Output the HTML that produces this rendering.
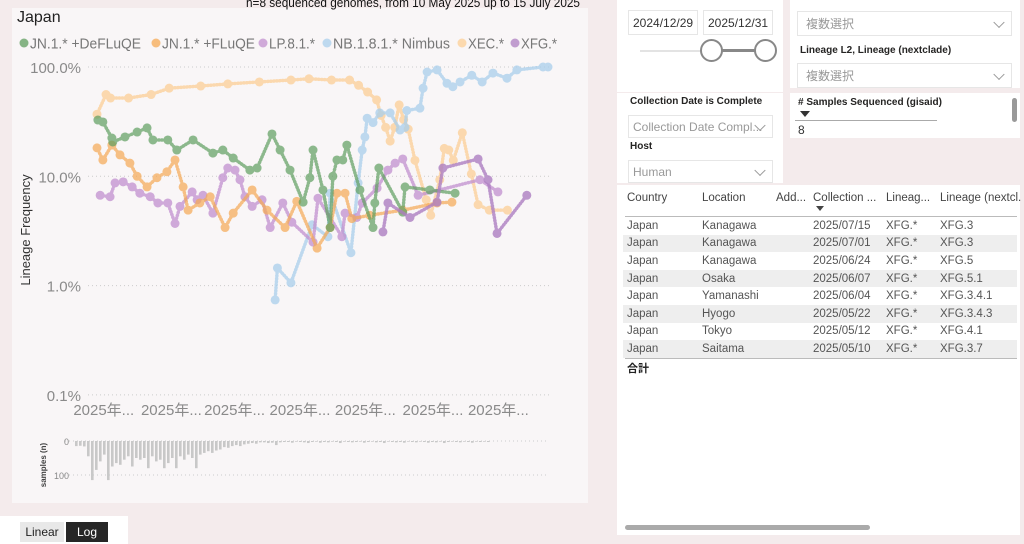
<!DOCTYPE html>
<html><head><meta charset="utf-8">
<style>
body{margin:0;width:1024px;height:544px;overflow:hidden;background:#f4ebec;font-family:"Liberation Sans","Noto Sans CJK JP",sans-serif;position:relative}
.abs{position:absolute}
.panel{position:absolute;background:#fff}
.lbl{position:absolute;font-size:10px;color:#252423;font-weight:bold;white-space:nowrap}
.dd{position:absolute;border:1px solid #e6e6e6;background:#fff;font-size:12px;color:#999;box-sizing:border-box;padding:0 8px;display:flex;align-items:center;white-space:nowrap;overflow:hidden}
.chev{position:absolute;right:8px;top:50%;width:7px;height:7px;border-right:1px solid #999;border-bottom:1px solid #999;transform:translateY(-70%) rotate(45deg)}
table{border-collapse:collapse;font-size:11.5px;color:#555}
td{height:17.6px;padding:0 0 0 4px;white-space:nowrap}
</style></head><body>
<div class="abs" style="left:12px;top:8px;width:576px;height:495px;background:#f9f6f7"></div>
<div class="abs" style="left:17px;top:9px;font-size:16px;color:#222">Japan</div>
<svg class="abs" style="left:0;top:0" width="600" height="510" id="chart"></svg>
<div class="panel" style="left:0;top:516px;width:128px;height:28px"></div>
<div class="abs" style="left:20px;top:522px;width:44px;height:20px;background:#e8e8e8;font-size:12px;color:#222;text-align:center;line-height:21px">Linear</div>
<div class="abs" style="left:66px;top:522px;width:42px;height:20px;background:#262626;font-size:12px;color:#fff;text-align:center;line-height:21px">Log</div>

<div class="panel" style="left:617px;top:0;width:166px;height:92px"></div>
<div class="dd" style="left:628px;top:10px;width:70px;height:25px;color:#333;padding:0 4px">2024/12/29</div>
<div class="dd" style="left:703px;top:10px;width:70px;height:25px;color:#333;padding:0 4px">2025/12/31</div>
<div class="abs" style="left:640px;top:50px;width:125px;height:2px;background:#e3e3e3"></div>
<div class="abs" style="left:711px;top:49px;width:54px;height:3px;background:#888"></div>
<div class="abs" style="left:700px;top:39px;width:19px;height:19px;border:2px solid #888;border-radius:50%;background:#fff"></div>
<div class="abs" style="left:754px;top:39px;width:19px;height:19px;border:2px solid #888;border-radius:50%;background:#fff"></div>

<div class="panel" style="left:790px;top:0;width:230px;height:88px"></div>
<div class="dd" style="left:797px;top:11px;width:215px;height:25px">複数選択<span class="chev"></span></div>
<div class="lbl" style="left:800px;top:45px">Lineage L2, Lineage (nextclade)</div>
<div class="dd" style="left:797px;top:63px;width:215px;height:25px">複数選択<span class="chev"></span></div>

<div class="panel" style="left:790px;top:93px;width:230px;height:45px;overflow:hidden">
<div class="lbl" style="left:8px;top:4px;font-size:10px">&#35; Samples Sequenced (gisaid)</div>
<div class="abs" style="left:10px;top:18px;width:0;height:0;border-left:5px solid transparent;border-right:5px solid transparent;border-top:6px solid #333"></div>
<div class="abs" style="left:5px;top:27px;width:142px;height:1px;background:#aaa"></div>
<div class="abs" style="left:8px;top:30px;font-size:12px;color:#333">8</div>
<div class="abs" style="left:222px;top:5px;width:5px;height:24px;border-radius:3px;background:#999"></div>
</div>

<div class="panel" style="left:617px;top:93px;width:166px;height:90px"></div>
<div class="lbl" style="left:630px;top:96px">Collection Date is Complete</div>
<div class="dd" style="left:628px;top:115px;width:145px;height:23px;padding:0 4px">Collection Date Compl...<span class="chev"></span></div>
<div class="lbl" style="left:630px;top:141px">Host</div>
<div class="dd" style="left:628px;top:160px;width:145px;height:23px;padding:0 4px">Human<span class="chev"></span></div>

<div class="panel" style="left:617px;top:185px;width:403px;height:350px">
<div class="abs" style="left:10px;top:7px;font-size:11.5px;color:#444;white-space:nowrap">Country</div>
<div class="abs" style="left:85px;top:7px;font-size:11.5px;color:#444">Location</div>
<div class="abs" style="left:159px;top:7px;font-size:11.5px;color:#444">Add...</div>
<div class="abs" style="left:196px;top:7px;font-size:11.5px;color:#444">Collection ...</div>
<div class="abs" style="left:199px;top:21px;width:0;height:0;border-left:4px solid transparent;border-right:4px solid transparent;border-top:5px solid #444"></div>
<div class="abs" style="left:269px;top:7px;font-size:11.5px;color:#444">Lineag...</div>
<div class="abs" style="left:323px;top:7px;font-size:11.5px;color:#444;white-space:nowrap">Lineage (nextcl.</div>
<div class="abs" style="left:8px;top:31px;width:392px;height:1px;background:#bbb"></div>
<table class="abs" style="left:6px;top:32px;width:394px">
<tr><td style="width:71px">Japan</td><td style="width:70px">Kanagawa</td><td style="width:33px"></td><td style="width:69px">2025/07/15</td><td style="width:50px">XFG.*</td><td>XFG.3</td></tr>
<tr style="background:#eee"><td>Japan</td><td>Kanagawa</td><td></td><td>2025/07/01</td><td>XFG.*</td><td>XFG.3</td></tr>
<tr><td>Japan</td><td>Kanagawa</td><td></td><td>2025/06/24</td><td>XFG.*</td><td>XFG.5</td></tr>
<tr style="background:#eee"><td>Japan</td><td>Osaka</td><td></td><td>2025/06/07</td><td>XFG.*</td><td>XFG.5.1</td></tr>
<tr><td>Japan</td><td>Yamanashi</td><td></td><td>2025/06/04</td><td>XFG.*</td><td>XFG.3.4.1</td></tr>
<tr style="background:#eee"><td>Japan</td><td>Hyogo</td><td></td><td>2025/05/22</td><td>XFG.*</td><td>XFG.3.4.3</td></tr>
<tr><td>Japan</td><td>Tokyo</td><td></td><td>2025/05/12</td><td>XFG.*</td><td>XFG.4.1</td></tr>
<tr style="background:#eee"><td>Japan</td><td>Saitama</td><td></td><td>2025/05/10</td><td>XFG.*</td><td>XFG.3.7</td></tr>
</table>
<div class="abs" style="left:8px;top:173px;width:392px;height:1px;background:#bbb"></div>
<div class="abs" style="left:10px;top:175px;font-size:11px;font-weight:bold;color:#222">合計</div>
<div class="abs" style="left:8px;top:340px;width:245px;height:5px;border-radius:3px;background:#aaa"></div>
</div>

<script>
const legendNames=["JN.1.* +DeFLuQE","JN.1.* +FLuQE","LP.8.1.*","NB.1.8.1.* Nimbus","XEC.*","XFG.*"];
const yTicks=[100,10,1,0.1];
const yTickLabels=["100.0%","10.0%","1.0%","0.1%"];
const xTickLabels=["2025年...","2025年...","2025年...","2025年...","2025年...","2025年...","2025年..."];
const xTickDays=[1.5,16.5,30.5,45,59.5,74.5,89];
const xecT=[0,2,3,7,12,16,23,29,36,43,47,52,56,58,60,62,63,64,65,66,67,68,69,70.5,73,74,76,77,78,79,81,83,84.5,87,91];
const xecV=[37,56,52,52,56,64,67,70,73,76,78,76,76,68,59,50,36,28,21,28,45,33,27,14,6.1,4.4,9.3,18,17.4,14,25,10.5,5.5,4.9,4.9];
const nbT=[39.5,40,43,47.7,51.2,51.7,56.3,57.9,58.8,59.4,59.9,61.2,62.7,65,67.2,68.3,68.7,71.6,72.3,73.2,75.4,77.6,78.9,80.5,83.1,85.4,87.8,90.9,93.1,98.9,100];
const nbV=[0.74,1.45,1.06,3.6,2.8,7.0,2.0,8.7,17.4,22.9,34,31,38,38,26.5,28,40,42,64,90,94,71,66,73,84,73,88,79,94,100,100];
const defT=[0.2,1.3,3.3,3.5,6.2,8.9,11.1,12.4,15.7,17.7,21.3,25.7,27.9,30.2,33.9,35.5,38.8,40.6,42.8,45.7,47.2,47.9,50.1,51.7,52.3,53.2,54.5,55.4,58.3,61.2,61.6,62.5,67.8,68.3,73.8,79.4];
const defV=[32.7,31.4,22.4,20.6,22.9,25.4,27.7,21.5,21.5,17.4,21.5,16.3,17.4,14.7,11.4,11.9,24.4,17.4,11.4,5.8,9.7,17.4,7.5,3.4,10,14.1,14.1,19.3,7.5,3.4,5.7,11.9,4.7,8.0,7.5,7.0];
const fluT=[0,1.3,3.3,5.1,7.3,8.9,11.1,13.3,15.5,17.3,19.1,20.2,22.8,25.1,28.4,30.2,34.4,37.7,41.7,44.3,48.8,51.7,53.2,55,56.5,60.5,67.8,75.4,78.7];
const fluV=[18.2,14.1,19.3,15.7,13.2,10,8.0,9.7,11.0,14.1,8.0,4.9,5.7,6.5,3.4,4.6,7.5,4.9,3.4,5.9,2.2,3.4,7.0,7.0,4.1,4.4,4.9,5.7,5.8];
const lpT=[0.7,2.9,4,5.8,7.8,9.5,11.8,13.5,15.7,17.3,18.4,21.1,22.2,23.5,25.7,27.9,29,30.6,31.7,32.8,34.4,36.6,38.4,41.2,43.2,47.9,49,54.3,55,57.6,58.8,62.1,64.5,66.1,67.8,71.2,84.9,88.9];
const lpV=[6.7,6.5,8.7,8.9,8.0,7.0,6.5,5.7,5.7,3.7,5.3,7.2,6.1,6.7,4.6,9.7,11.9,11.4,9.3,6.5,5.3,6.1,3.4,5.7,3.8,2.5,6.3,2.8,4.6,4.2,5.7,7.8,11.4,13.2,14.4,6.7,9.3,7.2];
const xfgT=[63.4,64.5,69.4,75.4,76.7,84.5,86.7,88.7,95.3];
const xfgV=[3.1,5.7,4.2,5.8,11.9,14.4,9.3,3.0,6.7];
const barCounts=[15,14,16,45,115,85,60,40,115,75,65,70,55,45,75,50,55,50,80,45,60,55,80,65,50,80,45,55,40,50,80,40,35,30,35,28,25,18,20,15,12,15,10,8,6,8,4,4,6,5,12,4,3,3,5,2,3,4,6,3,2,5,3,4,2,3,6,2,3,4,3,2,5,3,2,4,3,6,2,3,4,3,5,2,3,4,2,3,5,3,4,2,6,3,2,3,4,2,3,5,2,3,2,3];
const barTicks=[0,100];

const NS="http://www.w3.org/2000/svg";
const svg=document.getElementById('chart');
function mk(tag,attrs,parent){const e=document.createElementNS(NS,tag);for(const k in attrs)e.setAttribute(k,attrs[k]);(parent||svg).appendChild(e);return e;}
const xS=t=>97+t*4.51;
const yS=v=>67+(2-Math.log10(v))*109.3;
const barX=i=>67+i*4;
const barY=n=>441+n*0.34;

const sub=mk('text',{x:246,y:7,'font-size':13,fill:'#111',textLength:334,lengthAdjust:'spacingAndGlyphs'});
sub.textContent='n=8 sequenced genomes, from 10 May 2025 up to 15 July 2025';



yTicks.forEach((v,i)=>{
  const g=mk('line',{x1:88,x2:550,y1:yS(v),y2:yS(v),stroke:'#ccc','stroke-dasharray':'1 3'});
  
  
  const t=mk('text',{x:81,y:yS(v)+6,'text-anchor':'end','font-size':15,fill:'#8a8a8a'});
  t.textContent=yTickLabels[i];
  
  
});
xTickLabels.forEach((s,i)=>{
  const t=mk('text',{x:xS(xTickDays[i]),y:415,'text-anchor':'middle','font-size':15,fill:'#8a8a8a'});
  t.textContent=s;
  
  
});
const yt=mk('text',{x:0,y:0,transform:'translate(30,230) rotate(-90)','text-anchor':'middle','font-size':13,fill:'#333'});
yt.textContent='Lineage Frequency';



const colors=['#5f9e5f','#f5a954','#c190cf','#a9cfec','#fccf96','#ad7fc2'];
const legX=[20,152,259,323,458,511];
const legW=[111,93,46,117,36,36];
legendNames.forEach((n,i)=>{
  const g=mk('g',{});
  
  
  mk('circle',{cx:legX[i]+4,cy:43,r:4.5,fill:colors[i],opacity:0.75},g);
  const t=mk('text',{x:legX[i]+10,y:48.5,'font-size':15,fill:'#777',textLength:legW[i],lengthAdjust:'spacingAndGlyphs'},g);
  t.textContent=n;
});
function series(T,V,c,name,op){
  const g=mk('g',{opacity:op});
  
  
  mk('polyline',{points:T.map((t,i)=>xS(t)+','+yS(V[i])).join(' '),fill:'none',stroke:c,'stroke-width':3.5,'stroke-dasharray':'0.5 2.5','stroke-linecap':'round','stroke-linejoin':'round'},g);
  T.forEach((t,i)=>{const p=mk('circle',{cx:xS(t),cy:yS(V[i]),r:4.5,fill:c},g);
    
    });
}
series(xecT,xecV,colors[4],'series-xec',0.75);
series(nbT,nbV,colors[3],'series-nb181',0.75);
series(lpT,lpV,colors[2],'series-lp81',0.75);
series(fluT,fluV,colors[1],'series-jn1-fluqe',0.7);
series(defT,defV,colors[0],'series-jn1-defluqe',0.7);
series(xfgT,xfgV,colors[5],'series-xfg',0.8);

barTicks.forEach(v=>{
  const l=mk('line',{x1:65,x2:548,y1:barY(v),y2:barY(v),stroke:'#ccc','stroke-dasharray':'1 3'});
  
  
  const t=mk('text',{x:69,y:barY(v)+4,'text-anchor':'end','font-size':9,fill:'#888'});
  t.textContent=String(v);
  
  
});
barCounts.forEach((n,i)=>{
  const r=mk('rect',{x:barX(i)+8,y:barY(0),width:2.6,height:Math.max(barY(n)-barY(0),0.5),fill:'#c8c8c8'});
  
  
});
const bt=mk('text',{x:0,y:0,transform:'translate(46,465) rotate(-90)','text-anchor':'middle','font-size':8,'font-weight':'bold',fill:'#444'});
bt.textContent='samples (n)';


</script>
</body></html>
